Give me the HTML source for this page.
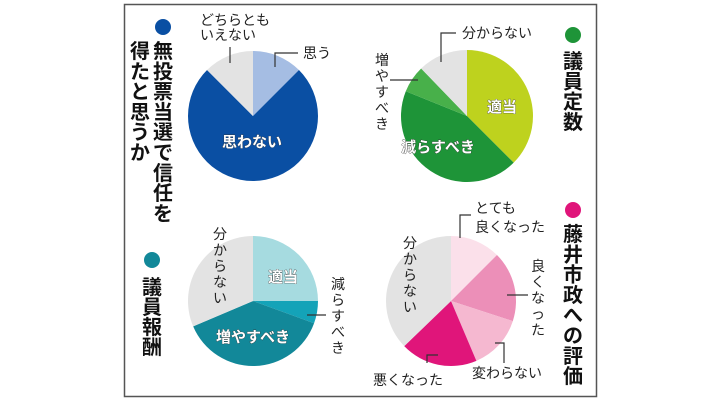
<!DOCTYPE html>
<html><head><meta charset="utf-8"><style>
html,body{margin:0;padding:0;background:#fff;}
svg{display:block;font-family:"Liberation Sans","Noto Sans CJK JP",sans-serif;}
.t{font-size:20px;font-weight:bold;fill:#111;}
.l{font-size:14px;fill:#222;}
.w{font-size:15px;font-weight:bold;fill:#fff;stroke:#333;stroke-width:0.6;paint-order:stroke;}
.ln{stroke:#333;stroke-width:1.2;fill:none;}
</style></head><body>
<svg id="s" width="711" height="400" viewBox="0 0 711 400">
<rect x="124.5" y="4.5" width="472" height="392" fill="#fff" stroke="#555" stroke-width="1.5"/>
<g id="pies"></g>
<!-- titles -->
<circle cx="163" cy="27" r="8" fill="#0a4fa3"/>
<g id="t1" class="t" text-anchor="middle"></g>
<circle cx="573" cy="35" r="8" fill="#1e9438"/>
<circle cx="152" cy="260" r="8" fill="#128899"/>
<circle cx="573" cy="210" r="8" fill="#e0157a"/>
<g id="vt"></g>
<!-- pie1 labels -->
<text class="l" x="200" y="25">どちらとも</text>
<text class="l" x="200" y="40">いえない</text>
<path class="ln" d="M230 47V63"/>
<path class="ln" d="M298 53H275V67"/>
<text class="l" x="303" y="58">思う</text>
<text class="w" x="252" y="147" text-anchor="middle">思わない</text>
<!-- pie2 -->
<text class="l" x="462" y="38">分からない</text>
<path class="ln" d="M456 33H441V62"/>
<path class="ln" d="M390 80H418"/>
<text class="w" x="502" y="112" text-anchor="middle">適当</text>
<text class="w" x="438" y="152" text-anchor="middle">減らすべき</text>
<!-- pie3 -->
<text class="w" x="283" y="282" text-anchor="middle">適当</text>
<text class="w" x="253" y="342" text-anchor="middle">増やすべき</text>
<path class="ln" d="M307 315H326"/>
<!-- pie4 -->
<text class="l" x="475" y="213">とても</text>
<text class="l" x="475" y="232">良くなった</text>
<path class="ln" d="M471 215H460V238"/>
<path class="ln" d="M507 295H528"/>
<text class="l" x="472" y="378">変わらない</text>
<path class="ln" d="M495 343H504V363"/>
<text class="l" x="373" y="385">悪くなった</text>
<path class="ln" d="M438 355H427V363"/>
</svg>
<script>
var NS="http://www.w3.org/2000/svg";
function el(p,tag,a,txt){var e=document.createElementNS(NS,tag);for(var k in a)e.setAttribute(k,a[k]);if(txt)e.textContent=txt;p.appendChild(e);return e;}
var pies=document.getElementById('pies');
function pt(cx,cy,r,a){a=a*Math.PI/180;return [cx+r*Math.sin(a),cy-r*Math.cos(a)];}
function pie(cx,cy,r,sl){sl.forEach(function(s){var p0=pt(cx,cy,r,s[0]),p1=pt(cx,cy,r,s[1]);var lg=(s[1]-s[0])>180?1:0;
el(pies,'path',{d:'M'+cx+' '+cy+'L'+p0[0]+' '+p0[1]+'A'+r+' '+r+' 0 '+lg+' 1 '+p1[0]+' '+p1[1]+'Z',fill:s[2]});});}
pie(253,116,65,[[0,45,'#a5bde3'],[45,315,'#0a4fa3'],[315,360,'#e3e3e3']]);
pie(467,116,66,[[0,135,'#bed21e'],[135,292,'#1e9438'],[292,316,'#48b04a'],[316,360,'#e3e3e3']]);
pie(253,301,65,[[0,90,'#a6dbe0'],[90,110,'#14a3b8'],[110,247,'#128899'],[247,360,'#e3e3e3']]);
pie(451,301,65,[[0,45,'#fbe0ea'],[45,108,'#ec8fb8'],[108,157,'#f5b8d0'],[157,226,'#e0157a'],[226,360,'#e3e3e3']]);
var vt=document.getElementById('vt');
function vtext(x,y0,pitch,str,cls){for(var i=0;i<str.length;i++)el(vt,'text',{x:x,y:y0+i*pitch,'class':cls,'text-anchor':'middle','dominant-baseline':'central'},str[i]);}
vtext(163,52,20.3,'無投票当選で信任を','t');
vtext(140,52,20.3,'得たと思うか','t');
vtext(573,62,20.3,'議員定数','t');
vtext(152,288,20,'議員報酬','t');
vtext(573,235,20.3,'藤井市政への評価','t');
vtext(382,60,16,'増やすべき','l');
vtext(220,234,16,'分からない','l');
vtext(338,284,16,'減らすべき','l');
vtext(538,266,16,'良くなった','l');
vtext(410,243,16,'分からない','l');
</script>
</body></html>
